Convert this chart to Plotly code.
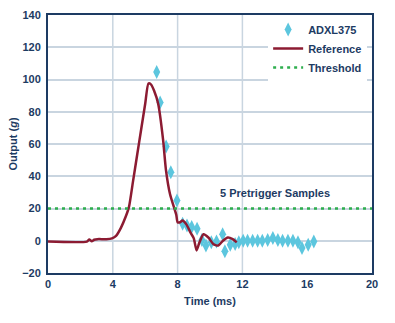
import plotly.graph_objects as go

# Reference (line) data: time in ms, output in g
ref_t = [0, 2.4, 2.55, 2.7, 2.85, 3.05, 3.6, 3.95, 4.2, 4.5, 4.8, 5.0, 5.25, 5.5, 5.75, 6.0,
         6.2, 6.35, 6.55, 6.8, 7.1, 7.28, 7.53, 7.8, 7.92, 8.0, 8.15, 8.3, 8.55, 8.8, 9.0,
         9.17, 9.35, 9.6, 9.9, 10.2, 10.5, 10.8, 11.1, 11.4, 11.65]
ref_g = [-0.5, -0.5, 0.8, -0.3, 0.6, 1.0, 1.0, 1.5, 3.0, 8.0, 15.0, 21.0, 37.0, 53.0, 69.0, 85.0,
         97.5, 97.0, 93.0, 85.0, 63.0, 44.0, 29.0, 20.0, 16.0, 11.5, 11.5, 12.5, 10.0, 5.0, 1.5,
         -6.0, -1.0, 4.0, 2.0, -2.0, -3.0, 0.0, 2.0, 1.0, -1.0]

# ADXL375 samples
adxl_t = [6.71, 6.92, 7.29, 7.58, 7.96, 8.31, 8.58, 8.87, 9.2, 9.5, 9.75, 10.08, 10.4,
          10.78, 10.92, 11.25, 11.55, 11.78, 12.05, 12.32, 12.63, 12.94, 13.23, 13.56,
          13.88, 14.19, 14.48, 14.81, 15.12, 15.43, 15.68, 16.06, 16.41]
adxl_g = [104.7, 85.7, 58.5, 42.5, 25.0, 10.5, 9.5, 8.5, 7.5, 0.5, -3.0, -1.0, -0.5,
          4.0, -6.5, -2.5, -2.0, -1.0, 0.0, 0.0, 0.0, 0.0, 0.0, 0.5,
          1.7, 0.5, 0.0, 0.0, 0.0, -1.0, -4.5, -2.5, -0.4]

# Threshold
thr_t = [0, 20]
thr_g = [20, 20]

x_ticks = [0, 4, 8, 12, 16, 20]
y_ticks = [-20, 0, 20, 40, 60, 80, 100, 120, 140]
x_grid = [4, 8, 12]

NAVY = "#1D3B63"
GRID = "#C9D5E0"
FONT = "Liberation Sans, Arial, sans-serif"

fig = go.Figure()
fig.add_trace(go.Scatter(
    x=adxl_t, y=adxl_g, mode="markers", name="ADXL375",
    marker=dict(symbol="diamond-tall", size=10, color="#5CC6DE", line=dict(width=0)),
))
fig.add_trace(go.Scatter(
    x=ref_t, y=ref_g, mode="lines", name="Reference",
    line=dict(color="#8C1B32", width=2.5, shape="spline", smoothing=0.6),
))
fig.add_trace(go.Scatter(
    x=thr_t, y=thr_g, mode="lines", name="Threshold",
    line=dict(color="#2EAE4E", width=2.5, dash="3px,4px"),
))

for v in x_grid:
    fig.add_shape(type="line", x0=v, x1=v, xref="x", y0=0, y1=1, yref="paper",
                  line=dict(color=GRID, width=1.5), layer="below")

fig.add_annotation(x=14.0, y=29.5, text="5 Pretrigger Samples", showarrow=False,
                   font=dict(family=FONT, size=11, color=NAVY, weight="bold"))

fig.update_layout(
    width=395, height=323,
    margin=dict(l=48, r=23, t=15, b=50),
    paper_bgcolor="white", plot_bgcolor="white",
    font=dict(family=FONT, size=11, color=NAVY, weight="bold"),
    showlegend=True,
    legend=dict(x=0.985, y=1.0, xanchor="right", yanchor="top",
                bgcolor="white", borderwidth=0,
                font=dict(family=FONT, size=11, color=NAVY, weight="bold"),
                tracegroupgap=0, itemwidth=30),
    xaxis=dict(range=[0, 20], tickvals=x_ticks, showgrid=False, zeroline=False, automargin=False,
               showline=True, linecolor=NAVY, linewidth=2, mirror=True, ticks="",
               title=dict(text="Time (ms)", font=dict(size=11, color=NAVY, weight="bold"), standoff=8),
               tickfont=dict(size=11, color=NAVY, weight="bold")),
    yaxis=dict(range=[-20, 140], tickvals=y_ticks, showgrid=True, gridcolor=GRID, gridwidth=1.5,
               zeroline=False, showline=True, linecolor=NAVY, linewidth=2, mirror=True, ticks="",
               automargin=False, ticklabelstandoff=3,
               title=dict(text="Output (<i>g</i>)", font=dict(size=11, color=NAVY, weight="bold"), standoff=2),
               tickfont=dict(size=11, color=NAVY, weight="bold")),
)

fig.write_html("out.html")
